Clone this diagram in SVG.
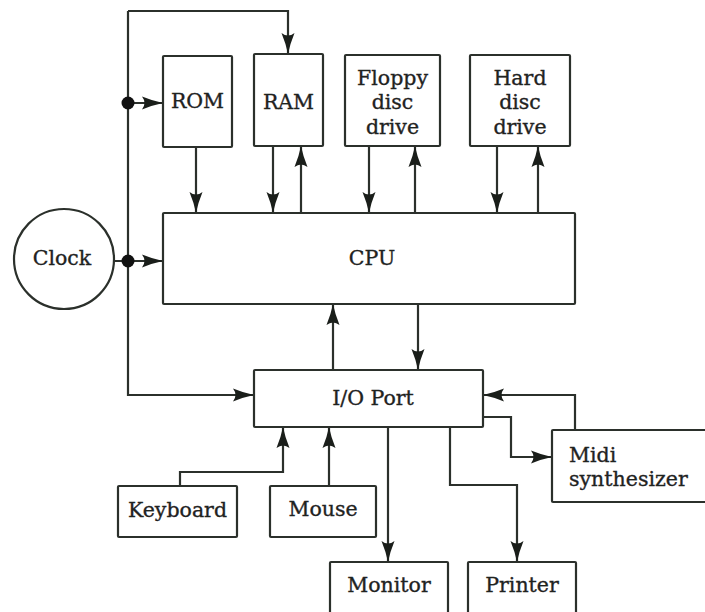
<svg xmlns="http://www.w3.org/2000/svg" width="705" height="612" viewBox="0 0 705 612">
<defs>
<marker id="ah" markerUnits="userSpaceOnUse" markerWidth="22" markerHeight="14" refX="21" refY="7" orient="auto">
<path d="M0,0.5 Q11,5 21,7 Q11,9 0,13.5 Q5,7 0,0.5 Z" fill="#1a1e1a"/>
</marker>
<style>
.box{fill:#fff;stroke:#2b302b;stroke-width:2.2}
.ln{fill:none;stroke:#2b302b;stroke-width:2.2}
.ar{marker-end:url(#ah)}
text{font-family:"DejaVu Serif","Liberation Serif",serif;font-size:20.5px;fill:#1f231f;stroke:#1f231f;stroke-width:0.35;text-anchor:middle}
.l{text-anchor:start}
</style>
</defs>
<rect width="705" height="612" fill="#fff"/>
<g id="connectors">
<path class="ln ar" d="M128,11 L288,11 L288,54"/>
<path class="ln ar" d="M128,11 L128,395 L254,395"/>
<path class="ln ar" d="M128,103 L163,103"/>
<path class="ln ar" d="M114,261 L163,261"/>
<path class="ln ar" d="M196,147 L196,213"/>
<path class="ln ar" d="M273,146 L273,213"/>
<path class="ln ar" d="M301,213 L301,146"/>
<path class="ln ar" d="M369,146 L369,213"/>
<path class="ln ar" d="M415,213 L415,146"/>
<path class="ln ar" d="M497,146 L497,213"/>
<path class="ln ar" d="M538,213 L538,146"/>
<path class="ln ar" d="M333,370 L333,304"/>
<path class="ln ar" d="M418,304 L418,370"/>
<path class="ln ar" d="M575,430 L575,395 L483,395"/>
<path class="ln ar" d="M483,417 L511,417 L511,457 L552,457"/>
<path class="ln ar" d="M388,427 L388,562"/>
<path class="ln ar" d="M450,427 L450,485 L517,485 L517,562"/>
<path class="ln ar" d="M180,486 L180,472 L283,472 L283,427"/>
<path class="ln ar" d="M329,486 L329,427"/>
<circle cx="128" cy="103" r="6.5" fill="#111"/>
<circle cx="128" cy="261" r="6.5" fill="#111"/>
</g>
<g id="rom"><rect class="box" x="163" y="56" width="69" height="91" rx="1"/><text x="197.5" y="108">ROM</text></g>
<g id="ram"><rect class="box" x="254" y="54" width="69" height="92" rx="1"/><text x="288.5" y="109">RAM</text></g>
<g id="floppy"><rect class="box" x="345" y="55" width="95" height="91" rx="1"/><text x="392.5" y="85">Floppy</text><text x="392.5" y="109">disc</text><text x="392.5" y="134">drive</text></g>
<g id="hard"><rect class="box" x="470" y="55" width="100" height="91" rx="1"/><text x="520" y="85">Hard</text><text x="520" y="109">disc</text><text x="520" y="134">drive</text></g>
<g id="clock"><circle class="box" cx="64" cy="259" r="50"/><text x="62" y="265">Clock</text></g>
<g id="cpu"><rect class="box" x="163" y="213" width="412" height="91" rx="1"/><text x="372" y="265">CPU</text></g>
<g id="io"><rect class="box" x="254" y="370" width="229" height="57" rx="1"/><text x="373" y="405">I/O Port</text></g>
<g id="midi"><rect class="box" x="552" y="430" width="160" height="72" rx="1"/><text class="l" x="569" y="462">Midi</text><text class="l" x="569" y="486">synthesizer</text></g>
<g id="keyboard"><rect class="box" x="118" y="486" width="119" height="51" rx="1"/><text x="177.5" y="517">Keyboard</text></g>
<g id="mouse"><rect class="box" x="270" y="486" width="106" height="51" rx="1"/><text x="323" y="516">Mouse</text></g>
<g id="monitor"><rect class="box" x="330" y="562" width="118" height="60" rx="1"/><text x="389" y="592">Monitor</text></g>
<g id="printer"><rect class="box" x="468" y="562" width="108" height="60" rx="1"/><text x="522" y="592">Printer</text></g>
</svg>
